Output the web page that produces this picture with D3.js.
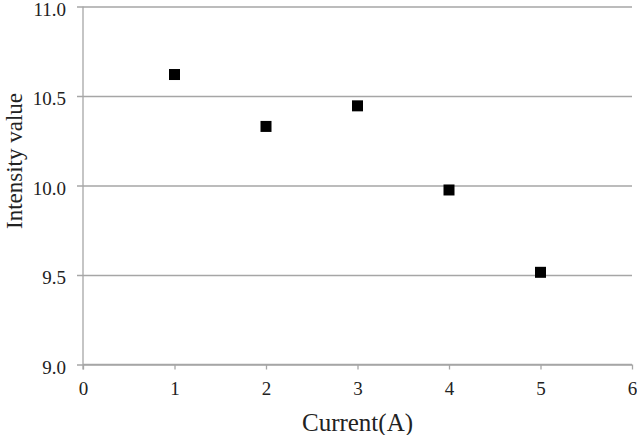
<!DOCTYPE html>
<html>
<head>
<meta charset="utf-8">
<script src="https://cdn.jsdelivr.net/npm/d3@7"></script>
<style>
  html, body { margin: 0; padding: 0; background: #fff; }
  svg { display: block; }
  text { font-family: "Liberation Serif", "Times New Roman", serif; fill: #222; }
</style>
</head>
<body>
<svg id="chart" width="637" height="435"></svg>
<script>
const currents = [1, 2, 3, 4, 5];
const intensities = [10.62, 10.33, 10.445, 9.975, 9.515];
const xTicks = [0, 1, 2, 3, 4, 5, 6];
const yTicks = [9.0, 9.5, 10.0, 10.5, 11.0];
const xTitle = "Current(A)";
const yTitle = "Intensity value";

(function () {
const svg = d3.select("#chart");
const pLeft = 83, pRight = 632, pTop = 6.5, pBottom = 364.5;
const gridColor = "#a6a6a6";

const x = d3.scaleLinear().domain([0, 6]).range([pLeft, pRight]);
const y = d3.scaleLinear().domain([9, 11]).range([pBottom, pTop]);

// horizontal gridlines + y ticks
const yAxis = d3.axisLeft(y).tickValues(yTicks).tickFormat(d3.format(".1f"))
  .tickSize(-(pRight - pLeft)).tickPadding(17);
const gy = svg.append("g").attr("transform", `translate(${pLeft},0)`).call(yAxis);
gy.select(".domain").remove();
gy.selectAll(".tick line").attr("stroke", gridColor).attr("stroke-width", 1.3)
  .attr("x1", -6).attr("x2", pRight - pLeft);
gy.selectAll(".tick text").attr("font-size", 19).attr("fill", "#222").attr("dy", "0.45em")
  .style("font-family", '"Liberation Serif", serif');

// x axis
const xAxis = d3.axisBottom(x).tickValues(xTicks).tickFormat(d3.format("d"))
  .tickSize(5).tickPadding(12);
const gx = svg.append("g").attr("transform", `translate(0,${pBottom})`).call(xAxis);
gx.select(".domain").attr("stroke", gridColor).attr("stroke-width", 1.3)
  .attr("d", `M${pLeft},0H${pRight}`);
gx.selectAll(".tick line").attr("stroke", gridColor).attr("stroke-width", 1.3);
gx.selectAll(".tick text").attr("font-size", 19).attr("fill", "#222")
  .style("font-family", '"Liberation Serif", serif');

// y axis line
svg.append("line").attr("x1", pLeft).attr("x2", pLeft).attr("y1", pTop).attr("y2", pBottom + 5)
  .attr("stroke", gridColor).attr("stroke-width", 1.3);

// markers
const s = 11;
svg.append("g").selectAll("rect").data(currents).join("rect")
  .attr("x", d => x(d) - s / 2)
  .attr("y", (d, i) => y(intensities[i]) - s / 2)
  .attr("width", s).attr("height", s)
  .attr("fill", "#000");

// titles
svg.append("text").attr("x", (pLeft + pRight) / 2).attr("y", 431)
  .attr("text-anchor", "middle").attr("font-size", 25).text(xTitle);
svg.append("text").attr("transform", "translate(21.5,161) rotate(-90)")
  .attr("text-anchor", "middle").attr("font-size", 23).text(yTitle);
})();
</script>
</body>
</html>
